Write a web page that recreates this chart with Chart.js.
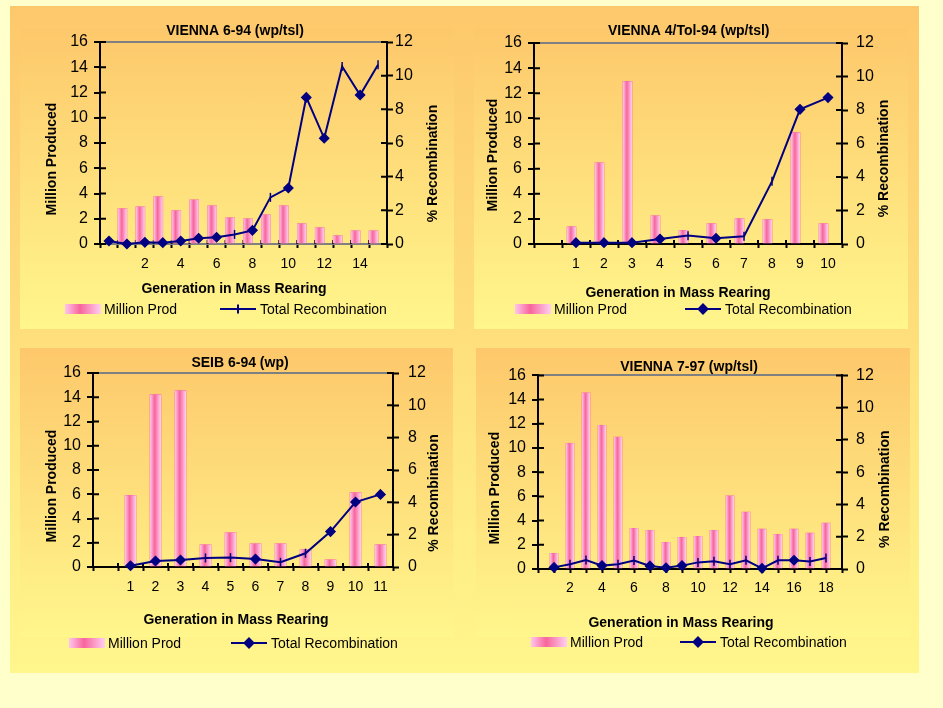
<!DOCTYPE html>
<html>
<head>
<meta charset="utf-8">
<title>Mass rearing recombination</title>
<script src="https://cdn.jsdelivr.net/npm/chart.js@4.4.1/dist/chart.umd.min.js"></script>
<style>
  html, body { margin: 0; padding: 0; background: #FFFFCC; }
  body { width: 943px; height: 708px; position: relative; overflow: hidden; }
  .frame { position: absolute; left: 10px; top: 6px; width: 909px; height: 667px; background: linear-gradient(#FDC86B, #FFF68C); }
  .panel { position: absolute; background: linear-gradient(#FDC86B, #FFF68C); }
  canvas { position: absolute; }
</style>
</head>
<body>
<div class="frame"></div>
<div class="panel" style="left:20px;top:28px;width:434px;height:301px"></div>
<div class="panel" style="left:474px;top:28px;width:434px;height:301px"></div>
<div class="panel" style="left:20px;top:348px;width:433px;height:289px"></div>
<div class="panel" style="left:476px;top:348px;width:434px;height:289px"></div>
<canvas id="c1" width="460" height="330" style="left:10px;top:6px"></canvas>
<canvas id="c2" width="449" height="330" style="left:470px;top:6px"></canvas>
<canvas id="c3" width="460" height="333" style="left:10px;top:340px"></canvas>
<canvas id="c4" width="449" height="333" style="left:470px;top:340px"></canvas>
<script>
// ---- data ----
const genVienna694 = ['', '1', '2', '3', '4', '5', '6', '7', '8', '9', '10', '11', '12', '13', '14', '15'];
const prodVienna694 = [null, 2.8, 2.95, 3.75, 2.64, 3.5, 3.03, 2.08, 2.0, 2.32, 3.03, 1.61, 1.29, 0.66, 1.05, 1.05];
const recVienna694 = [0.18, 0.0, 0.1, 0.08, 0.18, 0.34, 0.4, 0.57, 0.81, 2.77, 3.33, 8.71, 6.28, 10.55, 8.85, 10.65];

const genVienna4Tol = ['', '1', '2', '3', '4', '5', '6', '7', '8', '9', '10'];
const prodVienna4Tol = [null, 1.38, 6.47, 12.94, 2.25, 1.09, 1.62, 2.02, 1.94, 8.86, 1.62];
const recVienna4Tol = [null, 0.08, 0.08, 0.08, 0.3, 0.5, 0.34, 0.46, 3.74, 8.04, 8.74];

const genSeib694 = ['', '1', '2', '3', '4', '5', '6', '7', '8', '9', '10', '11'];
const prodSeib694 = [null, 5.91, 14.21, 14.54, 1.84, 2.83, 1.92, 1.92, 1.43, 0.6, 6.13, 1.84];
const recSeib694 = [null, 0.08, 0.37, 0.43, 0.56, 0.58, 0.49, 0.29, 0.85, 2.19, 4.02, 4.49];

const genVienna797 = ['', '1', '2', '3', '4', '5', '6', '7', '8', '9', '10', '11', '12', '13', '14', '15', '16', '17', '18', ''];
const prodVienna797 = [null, 1.3, 10.39, 14.56, 11.88, 10.91, 3.37, 3.2, 2.21, 2.62, 2.71, 3.2, 6.05, 4.7, 3.29, 2.87, 3.29, 2.96, 3.79, null];
const recVienna797 = [null, 0.1, 0.29, 0.56, 0.21, 0.29, 0.52, 0.19, 0.08, 0.21, 0.41, 0.48, 0.29, 0.54, 0.04, 0.54, 0.54, 0.46, 0.68, null];

const prodTicks = [0, 16, 2];   // min, max, step
const recTicks = [0, 12, 2];

const barLabel = 'Million Prod';
const lineLabel = 'Total Recombination';
const xTitle = 'Generation in Mass Rearing';
const yTitle = 'Million Produced';
const y1Title = '% Recombination';

// ---- look ----
const FONT = "'Liberation Sans', Arial, Helvetica, sans-serif";
const NAVY = '#000080';
Chart.defaults.font.family = FONT;
Chart.defaults.color = '#000';

function pinkGradient(ctx, x0, x1) {
  const g = ctx.createLinearGradient(x0, 0, x1, 0);
  g.addColorStop(0, '#FFC6EE');
  g.addColorStop(0.42, '#F7659B');
  g.addColorStop(1, '#FFD0F3');
  return g;
}

// excel style shaded columns, painted over the bar elements chart.js laid out
const shadedBars = {
  id: 'shadedBars',
  afterDatasetDraw(chart, args) {
    const meta = args.meta;
    if (meta.type !== 'bar') return;
    const ctx = chart.ctx;
    ctx.save();
    meta.data.forEach(bar => {
      const {x, y, base, width} = bar.getProps(['x', 'y', 'base', 'width'], true);
      if (!isFinite(y) || !isFinite(x)) return;
      ctx.fillStyle = pinkGradient(ctx, x - width / 2, x + width / 2);
      ctx.fillRect(x - width / 2, y, width, base - y);
    });
    ctx.restore();
  }
};

// tick marks crossing the axes (chart.js only draws the outer half)
const innerTicks = {
  id: 'innerTicks',
  beforeDatasetsDraw(chart) {
    const {ctx, chartArea: a, scales} = chart;
    ctx.save();
    ctx.strokeStyle = '#000';
    ctx.lineWidth = 2;
    ctx.beginPath();
    scales.y.ticks.forEach((t, i) => {
      const p = scales.y.getPixelForTick(i);
      ctx.moveTo(a.left, p); ctx.lineTo(a.left + 6, p);
    });
    scales.y1.ticks.forEach((t, i) => {
      const p = scales.y1.getPixelForTick(i);
      ctx.moveTo(a.right, p); ctx.lineTo(a.right - 6, p);
    });
    const x = scales.x;
    const px = x.ticks.map((t, i) => x.getPixelForTick(i));
    const marks = x.options.offset ? [a.left, ...px.slice(1).map((p, i) => (p + px[i]) / 2), a.right] : px;
    marks.forEach(p => { ctx.moveTo(p, a.bottom); ctx.lineTo(p, a.bottom - 4); });
    ctx.stroke();
    ctx.restore();
  }
};

// axis titles and legend placed like the excel originals
const panelText = {
  id: 'panelText',
  afterDraw(chart, args, o) {
    const {ctx, chartArea: a} = chart;
    const cx = (a.left + a.right) / 2, cy = (a.top + a.bottom) / 2;
    const sets = chart.data.datasets;
    ctx.save();
    ctx.fillStyle = '#000';
    ctx.textAlign = 'center';
    ctx.textBaseline = 'middle';
    ctx.font = 'bold 14px ' + FONT;
    ctx.fillText(xTitle, cx + o.xTitle[0], a.bottom + o.xTitle[1]);
    [[yTitle, a.left - o.yTitle[0], cy + o.yTitle[1]], [y1Title, a.right + o.y1Title[0], cy + o.y1Title[1]]].forEach(([t, x, y]) => {
      ctx.save();
      ctx.translate(x, y);
      ctx.rotate(-Math.PI / 2);
      ctx.fillText(t, 0, 0);
      ctx.restore();
    });

    const ly = a.bottom + o.legend[0];
    let lx = a.left + o.legend[1];
    ctx.fillStyle = pinkGradient(ctx, lx, lx + 36);
    ctx.fillRect(lx, ly - 5, 36, 10);
    ctx.fillStyle = '#000';
    ctx.textAlign = 'left';
    ctx.font = '14px ' + FONT;
    ctx.fillText(sets[1].label, lx + 39, ly + 1);

    lx = a.left + o.legend[2];
    ctx.strokeStyle = NAVY;
    ctx.lineWidth = 2;
    ctx.beginPath();
    ctx.moveTo(lx, ly); ctx.lineTo(lx + 36, ly);
    ctx.stroke();
    ctx.fillStyle = NAVY;
    Chart.helpers.drawPoint(ctx, {pointStyle: o.legendMark, radius: 4.5, rotation: 90, borderWidth: 2}, lx + 18, ly);
    ctx.fillStyle = '#000';
    ctx.fillText(sets[0].label, lx + 40, ly + 1);
    ctx.restore();
  }
};

function makeChart(id, s) {
  const marks = s.marks.split('').map(m => (m === '|' ? 'line' : 'rectRot'));
  const datasets = [
    {
      type: 'line', label: lineLabel, data: s.rec, yAxisID: 'y1', order: 0,
      borderColor: NAVY, borderWidth: 2, tension: 0, clip: false,
      pointStyle: marks, pointRotation: 90, pointRadius: 4.5,
      pointBackgroundColor: NAVY, pointBorderColor: NAVY, pointBorderWidth: 1.5
    },
    {
      type: 'bar', label: barLabel, data: s.prod, yAxisID: 'y', order: 1,
      backgroundColor: '#F7659B', barThickness: s.barWidth
    }
  ];
  // an empty second column series pushes the excel columns off centre
  if (s.shifted) {
    datasets.push({type: 'bar', label: '', data: s.labels.map(() => null), yAxisID: 'y', order: 2, barThickness: s.barWidth});
  }
  return new Chart(document.getElementById(id), {
    data: {labels: s.labels, datasets},
    plugins: [shadedBars, innerTicks, panelText],
    options: {
      responsive: false,
      animation: false,
      devicePixelRatio: 1,
      layout: {padding: {left: s.pad[0], right: s.pad[1], top: 0, bottom: 0}},
      plugins: {
        legend: {display: false},
        tooltip: {enabled: false},
        title: {
          display: true, text: s.title, color: '#000',
          font: {size: 14, weight: 'bold'},
          padding: {top: s.titlePad[0], bottom: s.titlePad[1]}
        },
        panelText: s.text
      },
      scales: {
        x: {
          offset: s.offset,
          afterFit: sc => { sc.height = s.xHeight; },
          grid: {drawOnChartArea: false, offset: s.offset, tickLength: 4, tickColor: '#000', tickWidth: 2},
          border: {color: s.xBorder, width: 2},
          ticks: {
            autoSkip: false, maxRotation: 0, padding: s.xTickPad, font: {size: 14},
            callback(v, i) { return i % s.step === 0 ? this.getLabelForValue(v) : ''; }
          }
        },
        y: {
          position: 'left', min: prodTicks[0], max: prodTicks[1],
          afterFit: sc => { sc.width = s.widths[0]; },
          ticks: {stepSize: prodTicks[2], padding: 6, font: {size: 16}},
          grid: {
            color: c => (c.tick && c.tick.value === prodTicks[1] ? '#808080' : 'rgba(0,0,0,0)'),
            lineWidth: 2, tickLength: 6, tickColor: '#000', tickWidth: 2
          },
          border: {color: '#000', width: 2}
        },
        y1: {
          position: 'right', min: recTicks[0], max: recTicks[1],
          afterFit: sc => { sc.width = s.widths[1]; },
          ticks: {stepSize: recTicks[2], padding: s.y1Pad, font: {size: 16}},
          grid: {drawOnChartArea: false, tickLength: 6, tickColor: '#000', tickWidth: 2},
          border: {color: '#000', width: 2}
        }
      }
    }
  });
}

makeChart('c1', {
  title: 'VIENNA 6-94 (wp/tsl)', labels: genVienna694, prod: prodVienna694, rec: recVienna694,
  marks: 'DDDDDDD|D|DDD|D|', step: 2, offset: true, shifted: true, barWidth: 9, xBorder: '#808080',
  pad: [10, 20], widths: [80, 63], titlePad: [16.6, 2.6], xHeight: 92, xTickPad: 8, y1Pad: 2,
  text: {yTitle: [48, 16], y1Title: [46, 20.5], xTitle: [-9.5, 45], legend: [65, -35, 120], legendMark: 'line'}
});

makeChart('c2', {
  title: 'VIENNA 4/Tol-94 (wp/tsl)', labels: genVienna4Tol, prod: prodVienna4Tol, rec: recVienna4Tol,
  marks: '-DDDD|D||DD', step: 1, offset: true, shifted: true, barWidth: 9, xBorder: '#000',
  pad: [4, 15.6], widths: [60, 61.4], titlePad: [16.6, 3.6], xHeight: 92, xTickPad: 8, y1Pad: 8,
  text: {yTitle: [41, 11.5], y1Title: [42, 15], xTitle: [-10, 49], legend: [65, -19, 151], legendMark: 'rectRot'}
});

makeChart('c3', {
  title: 'SEIB 6-94 (wp)', labels: genSeib694, prod: prodSeib694, rec: recSeib694,
  marks: '-DDD||D||DDD', step: 1, offset: true, shifted: false, barWidth: 11, xBorder: '#000',
  pad: [10, 10], widths: [73, 67], titlePad: [14.6, 1.6], xHeight: 106, xTickPad: 8, y1Pad: 9,
  text: {yTitle: [41, 16], y1Title: [41, 23], xTitle: [-7, 53], legend: [76, -24, 138], legendMark: 'rectRot'}
});

makeChart('c4', {
  title: 'VIENNA 7-97 (wp/tsl)', labels: genVienna797, prod: prodVienna797, rec: recVienna797,
  marks: '-D||D||DDD||||D|D||-', step: 2, offset: false, shifted: false, barWidth: 8, xBorder: '#000',
  pad: [4, 15], widths: [64, 62], titlePad: [18.6, 0], xHeight: 104, xTickPad: 7, y1Pad: 8,
  text: {yTitle: [43, 16], y1Title: [43, 17], xTitle: [-9, 54], legend: [73, -7, 142], legendMark: 'rectRot'}
});
</script>
</body>
</html>
